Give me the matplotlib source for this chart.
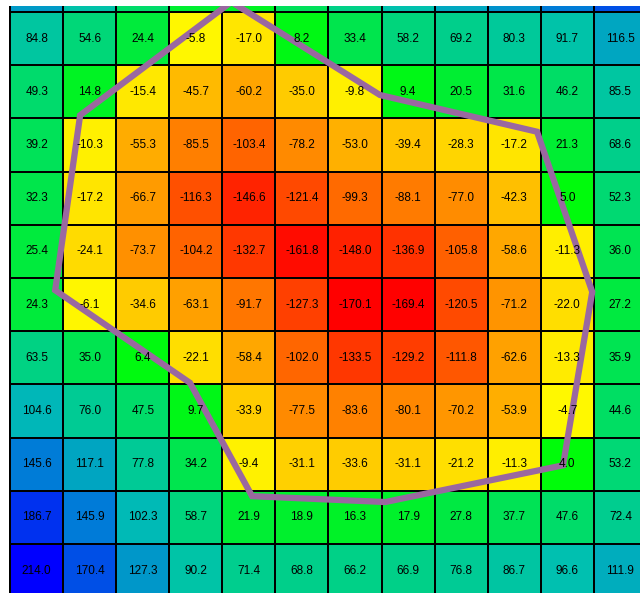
import numpy as np
import matplotlib
matplotlib.use('Agg')
import matplotlib.pyplot as plt
from matplotlib.colors import LinearSegmentedColormap

# grid values, top row is only partly shown (no labels there)
top_row = [125.0, 92.0, 48.0, 20.0, 14.0, 40.0, 66.0, 95.0, 115.0, 130.0, 145.0, 170.0]
rows = [
    [84.8, 54.6, 24.4, -5.8, -17.0, 8.2, 33.4, 58.2, 69.2, 80.3, 91.7, 116.5],
    [49.3, 14.8, -15.4, -45.7, -60.2, -35.0, -9.8, 9.4, 20.5, 31.6, 46.2, 85.5],
    [39.2, -10.3, -55.3, -85.5, -103.4, -78.2, -53.0, -39.4, -28.3, -17.2, 21.3, 68.6],
    [32.3, -17.2, -66.7, -116.3, -146.6, -121.4, -99.3, -88.1, -77.0, -42.3, 5.0, 52.3],
    [25.4, -24.1, -73.7, -104.2, -132.7, -161.8, -148.0, -136.9, -105.8, -58.6, -11.3, 36.0],
    [24.3, -6.1, -34.6, -63.1, -91.7, -127.3, -170.1, -169.4, -120.5, -71.2, -22.0, 27.2],
    [63.5, 35.0, 6.4, -22.1, -58.4, -102.0, -133.5, -129.2, -111.8, -62.6, -13.3, 35.9],
    [104.6, 76.0, 47.5, 9.7, -33.9, -77.5, -83.6, -80.1, -70.2, -53.9, -4.7, 44.6],
    [145.6, 117.1, 77.8, 34.2, -9.4, -31.1, -33.6, -31.1, -21.2, -11.3, 4.0, 53.2],
    [186.7, 145.9, 102.3, 58.7, 21.9, 18.9, 16.3, 17.9, 27.8, 37.7, 47.6, 72.4],
    [214.0, 170.4, 127.3, 90.2, 71.4, 68.8, 66.2, 66.9, 76.8, 86.7, 96.6, 111.9],
]

# outline polygon, in grid cell units (x = column, y = row from top)
outline_x = [4.17, 6.97, 9.93, 10.97, 10.42, 7.07, 4.56, 3.39, 0.85, 1.32, 4.17]
outline_y = [0.81, 2.56, 3.25, 6.26, 9.52, 10.21, 10.10, 7.97, 6.23, 2.94, 0.81]

values = np.array([top_row] + rows)
vmin, vmax = -170.1, 214.0

# red -> yellow below zero, green -> blue above zero
stops = [(-170.1, '#ff0000'), (0.0, '#ffff00'), (0.0, '#00ff00'), (25.0, '#00eb3c'),
         (55.0, '#00d778'), (100.0, '#00beb4'), (145.0, '#007dd7'), (214.0, '#0000ff')]
cmap = LinearSegmentedColormap.from_list(
    'split', [((v - vmin) / (vmax - vmin), c) for v, c in stops], N=1024)

fig = plt.figure(figsize=(6.4, 5.93), dpi=100)
ax = fig.add_axes([8.5 / 640, 0, 1 - 8.5 / 640, 587 / 593])

ncol = values.shape[1]
nrow = values.shape[0]
ax.pcolormesh(np.arange(ncol + 1), np.arange(nrow + 1), values, cmap=cmap,
              vmin=vmin, vmax=vmax, edgecolors='black', linewidth=1.2)

for i in range(1, nrow):
    for j in range(ncol):
        ax.text(j + 0.5, i + 0.5, f'{values[i, j]:.1f}', ha='center', va='center',
                fontsize=8.5, family=['Liberation Sans', 'DejaVu Sans'], color='black')

ax.plot(outline_x, outline_y, color='#9a68a0', lw=4.5, solid_joinstyle='miter')

ax.set_xlim(-0.03, 11.87)
ax.set_ylim(11.92, 0.887)
ax.axis('off')

fig.savefig('out.png', dpi=100)
